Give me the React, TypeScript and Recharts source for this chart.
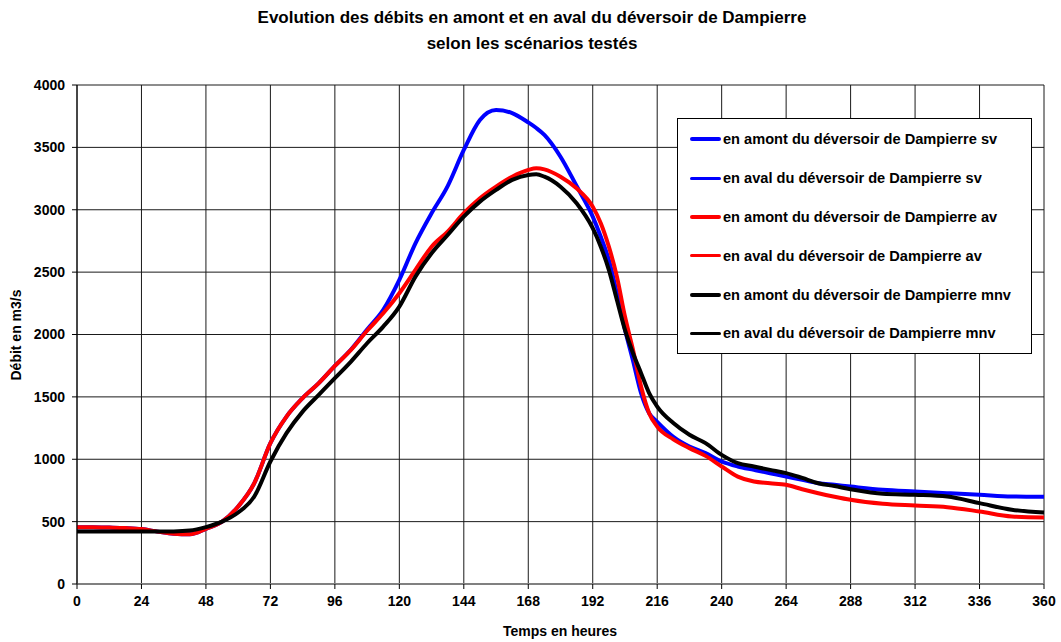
import React from 'react'
import { LineChart, Line, XAxis, YAxis, CartesianGrid } from 'recharts'

// temps en heures
const hours = [
  0, 6, 12, 18, 24, 30, 36, 42, 48, 54, 60, 66, 72, 78, 84, 90, 96, 102, 108, 114,
  120, 126, 132, 138, 144, 150, 156, 162, 168, 171, 174, 180, 186, 192, 195, 198, 201, 204, 207, 210,
  213, 216, 222, 228, 234, 240, 246, 252, 258, 264, 270, 276, 282, 288, 300, 312, 324, 336, 348, 360,
]

const amontSv = [
  455, 455, 452, 448, 440, 420, 402, 398, 442, 500, 621, 808, 1129, 1342, 1490, 1610, 1748, 1880, 2040, 2197,
  2437, 2731, 2972, 3190, 3479, 3720, 3800, 3775, 3700, 3655, 3600, 3425, 3190, 2945, 2784, 2598, 2331, 2040, 1790, 1530,
  1369, 1300, 1180, 1102, 1049, 982, 942, 915, 888, 861, 835, 808, 795, 781, 755, 741, 728, 715, 701, 700,
]

const amontAv = [
  455, 455, 452, 448, 440, 420, 402, 398, 442, 500, 621, 808, 1129, 1342, 1490, 1610, 1748, 1877, 2030, 2170,
  2331, 2518, 2704, 2825, 2972, 3092, 3185, 3265, 3319, 3332, 3324, 3265, 3172, 3025, 2892, 2704, 2464, 2144, 1877, 1583,
  1369, 1262, 1160, 1089, 1027, 942, 861, 821, 808, 795, 760, 728, 700, 675, 643, 629, 616, 581, 541, 533,
]

const amontMnv = [
  420, 420, 420, 420, 420, 420, 421, 428, 456, 500, 573, 701, 982, 1209, 1382, 1516, 1650, 1783, 1930, 2063,
  2224, 2464, 2651, 2798, 2945, 3065, 3159, 3239, 3279, 3284, 3265, 3185, 3052, 2852, 2704, 2518, 2277, 2037, 1850, 1690,
  1530, 1422, 1290, 1196, 1129, 1035, 969, 942, 915, 889, 850, 808, 785, 760, 723, 715, 701, 648, 595, 573,
]

// les courbes aval se confondent avec les courbes amont sur le graphique
const avalSv = amontSv
const avalAv = amontAv
const avalMnv = amontMnv

const xTicks = [0, 24, 48, 72, 96, 120, 144, 168, 192, 216, 240, 264, 288, 312, 336, 360]
const yTicks = [0, 500, 1000, 1500, 2000, 2500, 3000, 3500, 4000]

const series = [
  { key: 'amontSv', name: 'en amont du déversoir de Dampierre sv', color: '#0000ff', width: 4 },
  { key: 'avalSv', name: 'en aval du déversoir de Dampierre sv', color: '#0000ff', width: 2 },
  { key: 'amontAv', name: 'en amont du déversoir de Dampierre av', color: '#ff0000', width: 4 },
  { key: 'avalAv', name: 'en aval du déversoir de Dampierre av', color: '#ff0000', width: 2 },
  { key: 'amontMnv', name: 'en amont du déversoir de Dampierre mnv', color: '#000000', width: 4 },
  { key: 'avalMnv', name: 'en aval du déversoir de Dampierre mnv', color: '#000000', width: 2 },
]

const data = hours.map((h, i) => ({
  h,
  amontSv: amontSv[i],
  avalSv: avalSv[i],
  amontAv: amontAv[i],
  avalAv: avalAv[i],
  amontMnv: amontMnv[i],
  avalMnv: avalMnv[i],
}))

const font = 'Arial, "Liberation Sans", sans-serif'

function LegendBox() {
  return (
    <div
      style={{
        position: 'absolute',
        left: 677,
        top: 118,
        width: 355,
        height: 236,
        border: '1px solid #000',
        background: '#fff',
        boxSizing: 'border-box',
        padding: '1px 0 0 12px',
        fontFamily: font,
        fontWeight: 'bold',
        fontSize: 14.6,
        color: '#000',
      }}
    >
      {series.map((s) => (
        <div key={s.key} style={{ display: 'flex', alignItems: 'center', height: 38.8 }}>
          <div style={{ width: 31, height: s.width === 4 ? 4 : 3, background: s.color, borderRadius: 2 }} />
          <span style={{ marginLeft: 2, whiteSpace: 'nowrap' }}>{s.name}</span>
        </div>
      ))}
    </div>
  )
}

export default function App() {
  return (
    <div style={{ position: 'absolute', left: 0, top: 0, width: 1061, height: 642, background: '#fff', fontFamily: font }}>
      <LineChart width={1061} height={642} data={data} margin={{ top: 85, right: 17, left: 17, bottom: 28 }}>
        <CartesianGrid stroke="#1a1a1a" strokeWidth={1} ticks={yTicks} />
        <XAxis
          dataKey="h"
          type="number"
          domain={[0, 360]}
          ticks={xTicks}
          interval={0}
          height={30}
          axisLine={{ stroke: '#808080', strokeWidth: 2 }}
          tickLine={{ stroke: '#000' }}
          tickSize={5}
          tickMargin={7}
          tick={{ fill: '#000', fontSize: 14, fontWeight: 'bold', fontFamily: font }}
        />
        <YAxis
          type="number"
          domain={[0, 4000]}
          ticks={yTicks}
          interval={0}
          width={60}
          axisLine={{ stroke: '#000' }}
          tickLine={{ stroke: '#000' }}
          tickSize={5}
          tickMargin={7}
          tick={{ fill: '#000', fontSize: 14, fontWeight: 'bold', fontFamily: font }}
        />
        {series.map((s) => (
          <Line
            key={s.key}
            dataKey={s.key}
            name={s.name}
            type="monotone"
            stroke={s.color}
            strokeWidth={s.width}
            dot={false}
            activeDot={false}
            isAnimationActive={false}
          />
        ))}
      </LineChart>
      <div
        style={{
          position: 'absolute',
          left: 0,
          top: 5,
          width: 1064,
          textAlign: 'center',
          fontWeight: 'bold',
          fontSize: 17,
          lineHeight: '26px',
          color: '#000',
        }}
      >
        Evolution des débits en amont et en aval du déversoir de Dampierre
        <br />
        selon les scénarios testés
      </div>
      <div
        style={{
          position: 'absolute',
          left: 16,
          top: 335,
          transform: 'translate(-50%, -50%) rotate(-90deg)',
          fontWeight: 'bold',
          fontSize: 14,
          whiteSpace: 'nowrap',
        }}
      >
        Débit en m3/s
      </div>
      <div
        style={{
          position: 'absolute',
          left: 560,
          top: 631,
          transform: 'translate(-50%, -50%)',
          fontWeight: 'bold',
          fontSize: 14,
          whiteSpace: 'nowrap',
        }}
      >
        Temps en heures
      </div>
      <LegendBox />
    </div>
  )
}
